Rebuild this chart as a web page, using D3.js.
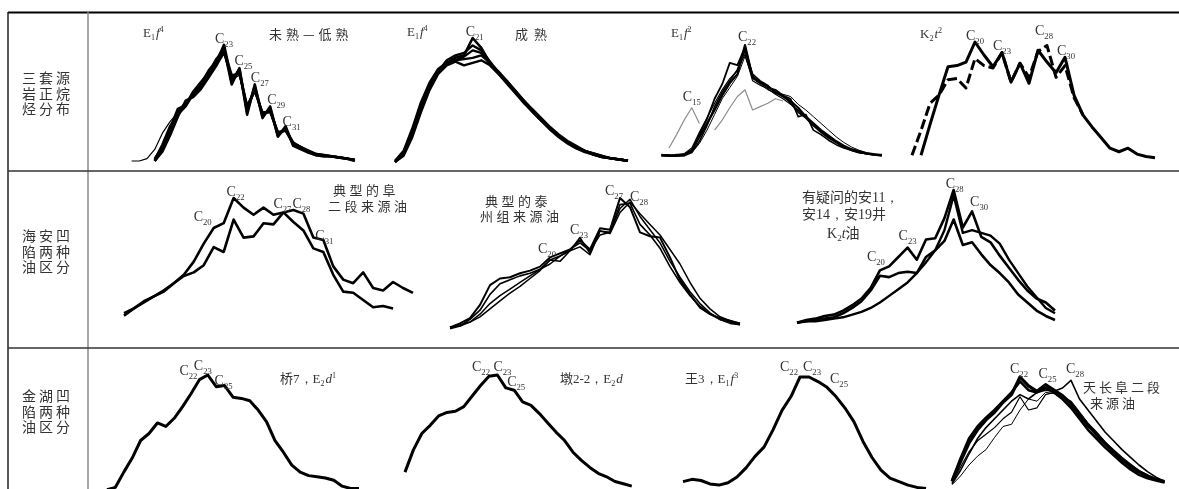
<!DOCTYPE html>
<html>
<head>
<meta charset="utf-8">
<script src="https://cdn.jsdelivr.net/npm/d3@7"></script>
<style>
  body { margin: 0; background: #fff; }
  svg { display: block; filter: grayscale(100%); }
</style>
</head>
<body>
<svg></svg>
<script>
// ---- data (relative abundance, peak = 100) ----

// row 1, panel 1 : E1f4 未熟-低熟
var aCarbon = [14,15,16,17,18,19,20,21,22,23,24,25,26,27,28,29,30,31,32,33,34,35,36,37,38,39,40];
var aThinCarbon = [11,12,13,14,15,16,17,18,19,20,21,22,23,24,25,26,27,28,29,30,31,32,33,34,35,36,37,38,39,40];
var a1 = [0,10,25,42,50,57,64,74,85,100,69,79,43,64,39,45,22,28,14,11,8,5,5,4,3,2,0];
var a2 = [2,12,28,45,48,60,68,76,88,96,74,75,48,60,42,42,25,26,15,12,8,6,5,4,3,2,1];
var a3 = [0,8,22,38,52,55,62,72,82,94,72,77,46,62,40,44,24,27,16,12,9,6,5,4,3,2,1];
var a4 = [1,14,30,40,47,58,66,78,86,97,66,80,40,66,37,47,21,30,13,10,7,5,4,4,3,2,1];
var aThin = [0,0,2,10,24,34,42,50,58,66,75,84,92,70,74,45,60,40,42,24,26,14,11,8,6,5,4,3,2,1];

// row 1, panel 2 : E1f4 成熟
var bCarbon = [12,13,14,15,16,17,18,19,20,21,22,23,24,25,26,27,28,29,30,31,32,33,34,35,36,37,38,39];
var b1 = [0,8,25,45,62,74,80,84,86,100,92,80,72,64,56,48,40,33,26,20,15,11,8,6,4,3,2,1];
var b2 = [0,6,22,42,60,72,79,82,85,90,88,79,71,63,55,47,40,33,27,21,16,12,9,6,4,3,2,1];
var b3 = [1,9,27,48,64,75,80,82,83,84,86,80,73,65,57,49,41,34,27,21,16,12,9,7,5,3,2,1];
var b4 = [0,7,24,44,61,73,82,86,88,94,90,81,72,65,57,49,42,35,28,22,17,13,9,7,5,3,2,1];
var b5 = [0,5,20,40,58,71,78,81,78,80,82,78,71,64,56,49,41,34,27,21,16,12,9,6,4,3,2,1];

// row 1, panel 3 : E1f2
var cCarbon = [11,12,13,14,15,16,17,18,19,20,21,22,23,24,25,26,27,28,29,30,31,32,33,34,35,36,37,38,39,40];
var c1 = [2,1,1,2,6,18,30,42,55,66,74,100,71,67,63,58,54,50,44,36,30,24,19,14,10,7,5,3,2,2];
var c2 = [1,1,2,2,5,20,34,52,65,84,82,98,72,66,62,60,55,48,40,35,28,22,17,13,9,6,4,3,2,1];
var c3 = [2,2,1,1,4,14,28,45,58,68,78,95,74,68,64,57,55,52,36,38,24,20,15,11,8,6,4,3,2,2];
var c4 = [1,1,1,2,4,12,24,38,52,62,72,90,70,65,60,57,56,54,47,42,36,30,24,18,13,9,6,4,3,2];
var c5 = [2,1,2,3,8,22,35,48,60,70,77,92,68,64,61,56,52,47,42,35,28,23,18,13,9,6,4,3,2,1];
var cGrayCarbon = [12,13,14,15,16,17,18,19,20,21,22,23,24,25,26,27];
var cGray = [8,20,33,44,30,null,24,33,44,54,60,42,45,48,52,50];

// row 1, panel 4 : K2t2
var dCarbon = [14,15,16,17,18,19,20,21,22,23,24,25,26,27,28,29,30,31,32,33,34,35,36,37,38,39,40];
var dSolid = [4,30,55,79,80,83,100,89,79,91,66,82,65,93,83,74,87,55,38,28,19,10,7,10,5,3,2];
var dDashCarbon = [13,14,15,16,17,18,19,20,21,22,23,24,25,26,27,28,29,30,31,32];
var dDash = [4,25,48,55,68,69,61,86,80,78,91,66,82,70,92,97,70,80,53,38];

// row 2, panel 1 : 典型的阜二段来源油
var eCarbon1 = [11,12,13,14,15,16,17,18,19,20,21,22,23,24,25,26,27,28,29,30,31,32,33,34,35,36,37,38];
var e1 = [4,8,13,18,23,29,36,47,62,75,79,100,92,86,92,86,88,80,73,58,55,36,22,21,15,9,10,8];
var eCarbon2 = [11,12,13,14,15,16,17,18,19,20,21,22,23,24,25,26,27,28,29,30,31,32,33,34,35,36,37,38,39,40];
var e2 = [2,8,14,18,22,29,35,38,44,59,55,82,67,68,79,78,88,90,87,67,65,43,32,29,38,25,23,30,25,21];

// row 2, panel 2 : 典型的泰州组来源油
var fCarbon = [10,11,12,13,14,15,16,17,18,19,20,21,22,23,24,25,26,27,28,29,30,31,32,33,34,35,36,37,38,39];
var f1 = [2,5,9,19,34,39,40,43,45,48,55,58,61,68,61,77,76,100,93,74,71,70,55,38,27,17,12,9,7,5];
var f2 = [2,4,6,10,16,22,28,33,39,45,53,52,60,63,57,75,73,89,97,88,80,72,61,50,36,24,16,10,7,5];
var f3 = [2,3,6,12,20,26,31,36,41,46,50,56,61,66,60,72,74,92,99,86,76,66,52,40,29,20,13,8,5,4];
var f4 = [1,3,8,15,27,35,38,41,43,46,53,56,60,70,58,75,74,95,96,80,72,62,48,36,26,18,12,8,6,4];

// row 2, panel 3 : 有疑问的安11，安14，安19井 K2t油
var gCarbon = [11,12,13,14,15,16,17,18,19,20,21,22,23,24,25,26,27,28,29,30,31,32,33,34,35,36,37,38,39];
var g1 = [1,3,4,6,7,10,14,19,27,40,43,50,57,48,63,64,79,100,72,84,65,61,51,42,33,25,19,16,10];
var g2 = [1,2,3,4,5,8,12,17,25,36,35,38,39,38,50,55,62,78,59,61,52,44,38,31,22,16,10,6,3];
var g3 = [1,2,2,3,4,5,7,9,12,16,21,26,31,38,46,55,70,96,68,70,68,66,60,48,38,28,20,12,8];

// row 3 : 桥7 / 墩2-2 / 王3 / 天长阜二段来源油
var hCarbon = [11,12,13,14,15,16,17,18,19,20,21,22,23,24,25,26,27,28,29,30,31,32,33,34,35,36,37,38,39,40,41];
var h1 = [2,4,17,29,44,50,59,56,63,73,84,96,100,90,91,81,80,78,70,60,44,34,23,17,14,13,12,10,5,3,3];
var iCarbon = [12,13,14,15,16,17,18,19,20,21,22,23,24,25,26,27,28,29,30,31,32,33,34,35,36,37,38,39];
var i1 = [17,36,50,57,65,68,69,73,82,91,99,100,89,87,77,74,67,59,51,44,34,27,21,16,13,9,7,5];
var jCarbon = [9,10,11,12,13,14,15,16,17,18,19,20,21,22,23,24,25,26,27,28,29,30,31,32,33,34,35,36];
var j1 = [9,11,10,7,6,8,13,21,31,39,54,71,83,100,100,96,91,83,73,61,44,30,19,12,9,6,4,3];
var kCarbon = [14,15,16,17,18,19,20,21,22,23,24,25,26,27,28,29,30,31,32,33,34,35,36,37,38,39];
var k1 = [5,23,40,52,61,68,77,84,100,92,87,93,88,83,76,66,56,48,40,32,25,19,14,10,7,5];
var k2 = [3,15,30,44,54,62,70,78,84,80,86,88,87,90,97,80,70,60,50,42,34,27,20,14,9,5];
var k3 = [2,10,20,28,34,45,55,57,70,80,78,86,85,80,74,64,55,46,38,30,24,18,13,9,6,4];
var k4 = [4,18,32,42,48,54,62,68,82,70,72,84,86,82,78,68,58,50,41,34,27,21,15,11,7,4];
var k5 = [6,26,44,55,63,70,78,86,96,88,86,90,86,80,72,62,52,44,36,29,22,16,11,8,6,4];

var rowLabels = [["三套源","岩正烷","烃分布"], ["海安凹","陷两种","油区分"], ["金湖凹","陷两种","油区分"]];

// ---- drawing ----
var width = 1179;
var height = 489;
var serif = "'Liberation Serif', 'Times New Roman', serif";
var cjk = "'Noto Sans CJK SC', 'Noto Sans', sans-serif";

var svg = d3.select("svg")
            .attr("width", width)
            .attr("height", height);

// table frame
var frame = svg.append("g").attr("fill", "none");
frame.append("line").attr("x1",8).attr("x2",width).attr("y1",12.5).attr("y2",12.5)
     .attr("stroke","#000").attr("stroke-width",2);
frame.append("line").attr("x1",8).attr("x2",8).attr("y1",12).attr("y2",height)
     .attr("stroke","#222").attr("stroke-width",1.5);
frame.append("line").attr("x1",88).attr("x2",88).attr("y1",12).attr("y2",height)
     .attr("stroke","#8a8a8a").attr("stroke-width",1.5);
[171, 348].forEach(function(y){
  frame.append("line").attr("x1",8).attr("x2",width).attr("y1",y).attr("y2",y)
       .attr("stroke","#333").attr("stroke-width",1.5);
});

// several lines of Chinese in one text element
var multiLine = function(x, y, lines, size, lh, spacing){
  var t = svg.append("text")
             .attr("x", x).attr("y", y)
             .attr("font-family", cjk)
             .attr("font-size", size)
             .attr("letter-spacing", spacing)
             .attr("fill", "#333");
  lines.forEach(function(l, k){
    t.append("tspan")
     .attr("x", x + l[0])
     .attr("dy", k == 0 ? 0 : lh)
     .text(l[1]);
  });
};

// row titles
var rowY = [83, 241, 401];
rowLabels.forEach(function(lines, r){
  multiLine(22, rowY[r], lines.map(function(t){ return [0, t]; }), 14, 15.5, 3);
});

var drawLines = function(xDomain, xRange, yRange, list){
  var xs = d3.scaleLinear().domain(xDomain).range(xRange);
  var ys = d3.scaleLinear().domain([0,100]).range(yRange);
  var line = d3.line()
               .defined(function(d){ return d[1] != null; })
               .x(function(d){ return xs(d[0]); })
               .y(function(d){ return ys(d[1]); });
  list.forEach(function(s){
    svg.append("path")
       .datum(d3.zip(s.c, s.v))
       .attr("d", line)
       .attr("fill", "none")
       .attr("stroke", s.color || "#000")
       .attr("stroke-width", s.w)
       .attr("stroke-dasharray", s.dash || null)
       .attr("stroke-linejoin", "round");
  });
  return xs;
};

// text with sub/superscripts: parts = [[text, kind]]
var richText = function(x, y, parts, size, anchor, fill){
  var t = svg.append("text")
             .attr("x", x).attr("y", y)
             .attr("font-family", serif)
             .attr("font-size", size)
             .attr("text-anchor", anchor || "start")
             .attr("fill", fill || "#333");
  var shift = 0;
  parts.forEach(function(p){
    var s = t.append("tspan").text(p[0]);
    var want = p[1] == "sub" ? size*0.25 : (p[1] == "sup" ? -size*0.4 : 0);
    if (want - shift != 0) s.attr("dy", want - shift);
    shift = want;
    if (p[1] == "sub" || p[1] == "sup") s.attr("font-size", size*0.62);
    if (p[1] == "i") s.attr("font-style", "italic").attr("dx", 1);
    if (p[1] == "cjk") s.attr("font-family", cjk);
  });
  return t;
};

var peakLabels = function(xs, specs){
  specs.forEach(function(s){
    richText(xs(s[0]) + s[1], s[2], [["C","n"],[String(s[0]),"sub"]], 14, s[3]);
  });
};

// row 1
var xa = drawLines([23,40], [224,354.9], [161,45], [
  {c: aThinCarbon, v: aThin, w: 1.2},
  {c: aCarbon, v: a2, w: 2.4},
  {c: aCarbon, v: a3, w: 2.4},
  {c: aCarbon, v: a4, w: 2.6},
  {c: aCarbon, v: a1, w: 2.8}
]);
peakLabels(xa, [[23,0,43,"middle"],[25,-5,65,"start"],[27,-4,82,"start"],[29,-3,104,"start"],[31,-3,126,"start"]]);
richText(143, 37, [["E","n"],["1","sub"],["f","i"],["4","sup"]], 13);
multiLine(269, 39, [[0, "未熟—低熟"]], 13, 0, 4);

var xb = drawLines([12,39], [395,628], [162,38], [
  {c: bCarbon, v: b5, w: 2.4},
  {c: bCarbon, v: b3, w: 2.4},
  {c: bCarbon, v: b2, w: 2.4},
  {c: bCarbon, v: b4, w: 2.4},
  {c: bCarbon, v: b1, w: 2.6}
]);
peakLabels(xb, [[21,2,36,"middle"]]);
richText(407, 36, [["E","n"],["1","sub"],["f","i"],["4","sup"]], 13);
multiLine(515, 39, [[0, "成熟"]], 13, 0, 6);

var xc = drawLines([11,40], [661.4,881.8], [157,45], [
  {c: cGrayCarbon, v: cGray, w: 1.2, color: "#8c8c8c"},
  {c: cCarbon, v: c4, w: 1.0},
  {c: cCarbon, v: c5, w: 1.2},
  {c: cCarbon, v: c3, w: 1.6},
  {c: cCarbon, v: c2, w: 1.8},
  {c: cCarbon, v: c1, w: 2.2}
]);
peakLabels(xc, [[22,2,41,"middle"],[15,0,101,"middle"]]);
richText(671, 37, [["E","n"],["1","sub"],["f","i"],["2","sup"]], 13);

var xd = drawLines([20,40], [975,1155], [160,42], [
  {c: dDashCarbon, v: dDash, w: 3, dash: "10,4"},
  {c: dCarbon, v: dSolid, w: 3}
]);
peakLabels(xd, [[20,0,40,"middle"],[23,0,50,"middle"],[28,-3,35,"middle"],[30,1,55,"middle"]]);
richText(920, 38, [["K","n"],["2","sub"],["t","i"],["2","sup"]], 13);

// row 2
var xe = drawLines([11,40], [124,413], [318,198], [
  {c: eCarbon2, v: e2, w: 2.6},
  {c: eCarbon1, v: e1, w: 2.6}
]);
peakLabels(xe, [[20,-2,221,"end"],[22,2,196,"middle"],[27,-10,208,"start"],[28,-1,208,"start"],[31,-8,240,"start"]]);
multiLine(333, 195, [[0, "典型的阜"], [-5, "二段来源油"]], 13, 16, 3.5);

var xf = drawLines([10,40], [450,750], [330,198], [
  {c: fCarbon, v: f2, w: 1.5},
  {c: fCarbon, v: f3, w: 1.5},
  {c: fCarbon, v: f4, w: 1.6},
  {c: fCarbon, v: f1, w: 2.0}
]);
peakLabels(xf, [[20,-3,253,"middle"],[23,-1,234,"middle"],[27,-6,195,"middle"],[28,0,201,"start"]]);
multiLine(485, 206, [[0, "典型的泰"], [-5, "州组来源油"]], 13, 15, 3.5);

var xg = drawLines([11,39], [797,1055], [324,190], [
  {c: gCarbon, v: g3, w: 2.4},
  {c: gCarbon, v: g2, w: 2.6},
  {c: gCarbon, v: g1, w: 2.6}
]);
peakLabels(xg, [[20,-4,261,"middle"],[23,0,240,"middle"],[28,1,188,"middle"],[30,-2,206,"start"]]);
var gNote = svg.append("text")
               .attr("x", 802).attr("y", 202)
               .attr("font-family", cjk)
               .attr("font-size", 14)
               .attr("fill", "#333");
gNote.append("tspan").text("有疑问的安");
gNote.append("tspan").attr("font-family", serif).text("11，");
gNote.append("tspan").attr("x", 802).attr("dy", 17).text("安");
gNote.append("tspan").attr("font-family", serif).text("14，");
gNote.append("tspan").text("安");
gNote.append("tspan").attr("font-family", serif).text("19");
gNote.append("tspan").text("井");
gNote.append("tspan").attr("x", 827).attr("dy", 19).attr("font-family", serif).text("K");
gNote.append("tspan").attr("dy", 3).attr("font-size", 9).attr("font-family", serif).text("2");
gNote.append("tspan").attr("dy", -3).attr("font-family", serif).attr("font-style", "italic").text("t");
gNote.append("tspan").text("油");

// row 3
var xh = drawLines([11,41], [107,359], [492,375], [{c: hCarbon, v: h1, w: 3}]);
peakLabels(xh, [[22,-2,375,"end"],[23,-5,370,"middle"],[25,-10,385,"start"]]);
richText(280, 383, [["桥","cjk"],["7，","n"],["E","n"],["2","sub"],["d","i"],["1","sup"]], 13);

var xi = drawLines([12,40], [405,640.2], [492,375], [{c: iCarbon, v: i1, w: 3}]);
peakLabels(xi, [[22,1,371,"end"],[23,-4,371,"start"],[25,-7,386,"start"]]);
richText(560, 383, [["墩","cjk"],["2-2，","n"],["E","n"],["2","sub"],["d","i"]], 13);

var xj = drawLines([9,36], [683,926], [492,377], [{c: jCarbon, v: j1, w: 3}]);
peakLabels(xj, [[22,-2,371,"end"],[23,-6,371,"start"],[25,3,383,"start"]]);
richText(685, 383, [["王","cjk"],["3，","n"],["E","n"],["1","sub"],["f","i"],["3","sup"]], 13);

var xk = drawLines([14,39], [952,1164.5], [487,377], [
  {c: kCarbon, v: k3, w: 1.0},
  {c: kCarbon, v: k4, w: 1.2},
  {c: kCarbon, v: k2, w: 1.6},
  {c: kCarbon, v: k5, w: 2.6},
  {c: kCarbon, v: k1, w: 3.2}
]);
peakLabels(xk, [[22,-1,373,"middle"],[25,2,378,"middle"],[28,4,373,"middle"]]);
multiLine(1083, 392, [[0, "天长阜二段"], [7, "来源油"]], 13, 16, 3);
</script>
</body>
</html>
